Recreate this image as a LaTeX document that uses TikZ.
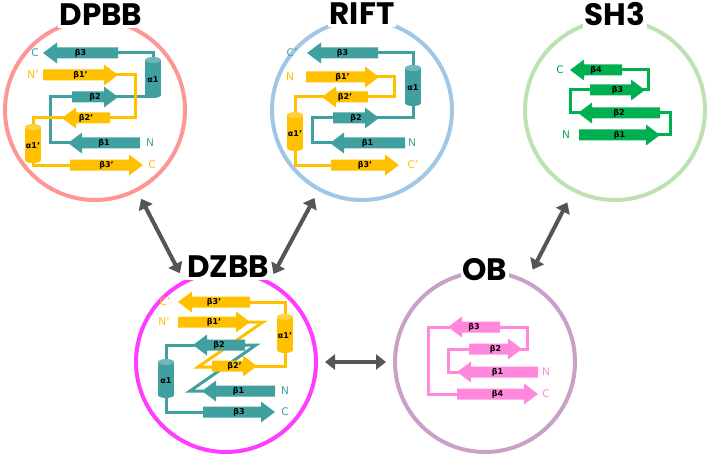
\documentclass[tikz,border=0pt]{standalone}
\usepackage{fontspec}
\setmainfont{DejaVu Sans}
\newfontfamily\titlefont{Poppins}
\usetikzlibrary{arrows.meta}
\definecolor{tealfold}{RGB}{64,160,160}
\definecolor{goldfold}{RGB}{255,192,0}
\definecolor{greenfold}{RGB}{0,176,80}
\definecolor{pinkfold}{RGB}{255,136,221}
\definecolor{dpbbring}{RGB}{255,150,150}
\definecolor{riftring}{RGB}{160,200,230}
\definecolor{shring}{RGB}{190,225,180}
\definecolor{dzbbring}{RGB}{255,60,255}
\definecolor{obring}{RGB}{200,160,200}
\definecolor{linkgray}{RGB}{85,85,85}
\tikzset{
  ring/.style={circle, draw=#1, line width=4pt, minimum size=180pt, inner sep=0pt, outer sep=0pt},
  fold title/.style={fill=white, inner sep=2pt, font=\titlefont\bfseries\fontsize{31}{31}\selectfont},
  loop/.style={draw=#1, line width=3pt, line join=miter},
  end label/.style={text=#1, font=\fontsize{10.5}{10.5}\selectfont},
  link/.style={linkgray, line width=4pt, {Triangle[length=10pt,width=15pt]}-{Triangle[length=10pt,width=15pt]}, shorten <=#1, shorten >=#1}
}
% strand: colour, tail x, tip x, y, label
\newcommand{\strand}[5]{%
  \pgfmathsetmacro{\hd}{(#3>#2)?-14:14}
  \fill[#1] (#2,#4-5.5) -- (#3+\hd,#4-5.5) -- (#3+\hd,#4-10.5) -- (#3,#4) -- (#3+\hd,#4+10.5) -- (#3+\hd,#4+5.5) -- (#2,#4+5.5) -- cycle;
  \node[font=\bfseries\fontsize{8}{8}\selectfont] at ({(#2+#3)/2},#4) {#5};
}
% helix: colour, x, top y, bottom y, label
\newcommand{\helix}[5]{%
  \fill[#1] (#2-8,#3) rectangle (#2+8,#4);
  \fill[#1] (#2,#4) ellipse (8 and 3);
  \fill[#1!75!white] (#2,#3) ellipse (8 and 3);
  \node[font=\bfseries\fontsize{8}{8}\selectfont] at (#2,{(#3+#4)/2+2}) {#5};
}
\begin{document}
\begin{tikzpicture}[x=1pt,y=-1pt]
\useasboundingbox (0,0) rectangle (708,457);
% rings and titles
\node[ring=dpbbring] (dpbb) at (95,110) {};
\node[ring=riftring] (rift) at (362,110) {};
\node[ring=shring] (sh3) at (615,110) {};
\node[ring=dzbbring] (dzbb) at (226,362) {};
\node[ring=obring] (ob) at (485,362) {};
\node[fold title] (dpbbt) at (101,15) {DPBB};
\node[fold title] (riftt) at (362,14) {RIFT};
\node[fold title] (sh3t) at (615,14) {SH3};
\node[fold title] (dzbbt) at (228,267) {DZBB};
\node[fold title] (obt) at (485,270) {OB};
% links
\draw[link=10pt] (dpbb) -- (dzbb);
\draw[link=10pt] (rift) -- (dzbb);
\draw[link=9pt] (dzbb) -- (ob);
\draw[link=14pt] (ob) -- (sh3);

% DPBB
\draw[loop=tealfold] (118,53) -- (153,53) -- (153,62);
\draw[loop=tealfold] (153,95) -- (153,97) -- (115,97);
\draw[loop=tealfold] (72,97) -- (50,97) -- (50,143) -- (70,143);
\draw[loop=goldfold] (115,75) -- (135,75) -- (135,118) -- (110,118);
\draw[loop=goldfold] (64,118) -- (33,118) -- (33,127);
\draw[loop=goldfold] (33,160) -- (33,165) -- (70,165);
\strand{tealfold}{118}{43}{53}{β3}
\strand{tealfold}{72}{118}{97}{β2}
\strand{tealfold}{140}{68}{143}{β1}
\strand{goldfold}{43}{118}{75}{β1'}
\strand{goldfold}{110}{62}{118}{β2'}
\strand{goldfold}{70}{143}{165}{β3'}
\helix{tealfold}{153}{60}{95}{α1}
\helix{goldfold}{33}{127}{160}{α1'}
\node[end label=tealfold] (dpbbc) at (35,53) {C};
\node[end label=tealfold] (dpbbn) at (150,143) {N};
\node[end label=goldfold] (dpbbn2) at (33,75) {N'};
\node[end label=goldfold] (dpbbc2) at (152,165) {C};

% RIFT
\draw[loop=tealfold] (378,53) -- (413,53) -- (413,70);
\draw[loop=tealfold] (413,103) -- (413,118) -- (376,118);
\draw[loop=tealfold] (333,118) -- (312,118) -- (312,143) -- (332,143);
\draw[loop=goldfold] (376,77) -- (394,77) -- (394,97) -- (368,97);
\draw[loop=goldfold] (324,97) -- (295,97) -- (295,117);
\draw[loop=goldfold] (295,148) -- (295,165) -- (331,165);
\strand{tealfold}{378}{307}{53}{β3}
\strand{tealfold}{333}{379}{118}{β2}
\strand{tealfold}{405}{330}{143}{β1}
\strand{goldfold}{306}{379}{77}{β1'}
\strand{goldfold}{368}{322}{97}{β2'}
\strand{goldfold}{331}{399}{165}{β3'}
\helix{tealfold}{413}{68}{103}{α1}
\helix{goldfold}{295}{115}{148}{α1'}
\node[end label=tealfold] (riftc) at (292,53) {C'};
\node[end label=tealfold] (riftn) at (412,143) {N};
\node[end label=goldfold] (riftn2) at (290,77) {N};
\node[end label=goldfold] (riftc2) at (413,165) {C'};

% SH3
\draw[loop=greenfold] (622,70) -- (648,70) -- (648,90) -- (643,90);
\draw[loop=greenfold] (590,90) -- (570,90) -- (570,113) -- (580,113);
\draw[loop=greenfold] (660,113) -- (670,113) -- (670,135) -- (658,135);
\strand{greenfold}{622}{570}{70}{β4}
\strand{greenfold}{590}{645}{90}{β3}
\strand{greenfold}{660}{578}{113}{β2}
\strand{greenfold}{579}{660}{135}{β1}
\node[end label=greenfold] (sh3c) at (560,70) {C};
\node[end label=greenfold] (sh3n) at (566,135) {N};

% DZBB
\draw[loop=goldfold] (250,302) -- (285,302) -- (285,317);
\draw[loop=goldfold] (285,350) -- (285,366) -- (255,366);
\draw[loop=goldfold] (248,322) -- (263,322) -- (198,367) -- (214,367);
\draw[loop=tealfold] (243,345) -- (256,345) -- (190,391) -- (204,391);
\draw[loop=tealfold] (195,345) -- (166,345) -- (166,362);
\draw[loop=tealfold] (166,395) -- (166,412) -- (203,412);
\strand{goldfold}{250}{178}{302}{β3'}
\strand{goldfold}{178}{250}{322}{β1'}
\strand{goldfold}{212}{257}{366}{β2'}
\strand{tealfold}{245}{193}{345}{β2}
\strand{tealfold}{275}{202}{391}{β1}
\strand{tealfold}{203}{275}{412}{β3}
\helix{goldfold}{285}{317}{350}{α1'}
\helix{tealfold}{166}{362}{395}{α1}
\node[end label=goldfold] (dzbbc2) at (165,302) {C'};
\node[end label=goldfold] (dzbbn2) at (164,322) {N'};
\node[end label=tealfold] (dzbbn) at (285,391) {N};
\node[end label=tealfold] (dzbbc) at (285,412) {C};

% OB
\draw[loop=pinkfold] (500,327) -- (527,327) -- (527,349) -- (520,349);
\draw[loop=pinkfold] (469,349) -- (448,349) -- (448,372) -- (459,372);
\draw[loop=pinkfold] (450,327) -- (428,327) -- (428,394) -- (457,394);
\strand{pinkfold}{500}{448}{327}{β3}
\strand{pinkfold}{469}{522}{349}{β2}
\strand{pinkfold}{538}{457}{372}{β1}
\strand{pinkfold}{457}{538}{394}{β4}
\node[end label=pinkfold] (obn) at (546,372) {N};
\node[end label=pinkfold] (obc) at (546,394) {C};
\end{tikzpicture}
\end{document}
